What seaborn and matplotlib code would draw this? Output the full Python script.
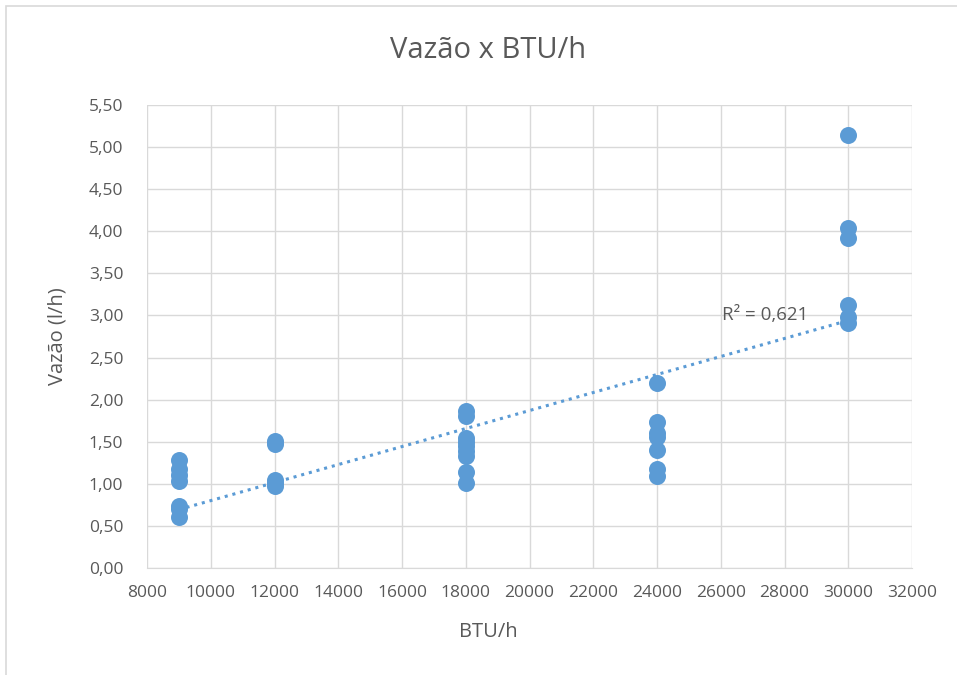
import numpy as np
import matplotlib
matplotlib.use("Agg")
import matplotlib.pyplot as plt
import seaborn as sns
import pandas as pd
from matplotlib.ticker import FuncFormatter, MultipleLocator

# Data
btu = [9000] * 7 + [12000] * 5 + [18000] * 9 + [24000] * 7 + [30000] * 6
vazao = [1.28, 1.18, 1.10, 1.03, 0.74, 0.70, 0.61,
         1.51, 1.47, 1.05, 1.01, 0.97,
         1.86, 1.81, 1.55, 1.50, 1.45, 1.39, 1.33, 1.14, 1.01,
         2.20, 1.74, 1.60, 1.56, 1.40, 1.18, 1.09,
         5.14, 4.04, 3.92, 3.12, 2.98, 2.91]
r2_label = "R² = 0,621"

df = pd.DataFrame({"BTU/h": btu, "Vazão (l/h)": vazao})

sns.set_style("white")
plt.rcParams['font.family'] = ['Open Sans', 'DejaVu Sans']

blue = "#5B9BD5"
grid = "#D9D9D9"
txt = "#595959"

fig = plt.figure(figsize=(9.57, 6.75), dpi=100)
ax = fig.add_axes([147 / 957, 1 - 568 / 675, (912 - 147) / 957, (568 - 105) / 675])

sns.regplot(data=df, x="BTU/h", y="Vazão (l/h)", ax=ax, scatter=False, ci=None,
            color=blue, line_kws={"linestyle": (0, (1, 1.6)), "linewidth": 2.2})
sns.scatterplot(data=df, x="BTU/h", y="Vazão (l/h)", ax=ax, s=150, color=blue,
                edgecolor=blue, linewidth=0, zorder=3)

ax.set_xlim(8000, 32000)
ax.set_ylim(0, 5.5)
ax.xaxis.set_major_locator(MultipleLocator(2000))
ax.yaxis.set_major_locator(MultipleLocator(0.5))
ax.yaxis.set_major_formatter(FuncFormatter(lambda v, p: f"{v:.2f}".replace(".", ",")))
ax.grid(True, color=grid, linewidth=1)
ax.set_axisbelow(True)
for s in ["top", "right", "left"]:
    ax.spines[s].set_visible(False)
ax.spines["bottom"].set_color(grid)
ax.tick_params(axis="both", length=0, labelsize=12.5, colors=txt)
ax.tick_params(axis="y", pad=17)
ax.tick_params(axis="x", pad=12)

ax.set_xlabel("BTU/h", fontsize=14.5, color=txt)
ax.set_ylabel("Vazão (l/h)", fontsize=14.5, color=txt)
ax.xaxis.set_label_coords((488 - 147) / 765, (568 - 622) / 463)
ax.yaxis.set_label_coords((67 - 147) / 765, 0.5)
fig.text(488 / 957, 1 - 51 / 675, "Vazão x BTU/h", fontsize=21, color=txt,
         ha="center", va="center")
ax.text(26050, 3.0, r2_label, fontsize=13.5, color=txt, ha="left", va="center")

fig.patches.append(plt.Rectangle((6 / 957, -0.01), 1.0, 1 - 6 / 675 + 0.01, transform=fig.transFigure,
                                 fill=False, edgecolor=grid, linewidth=1.2))

fig.savefig("out.png", dpi=100)
